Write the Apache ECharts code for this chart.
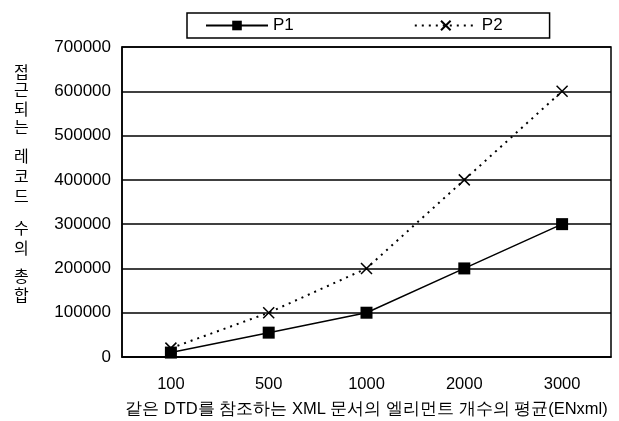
<!DOCTYPE html>
<html><head><meta charset="utf-8">
<script src="https://cdn.jsdelivr.net/npm/echarts@6/dist/echarts.min.js"></script>
<style>html,body{margin:0;padding:0;background:#fff}#c{width:619px;height:421px}</style>
</head><body><div id="c"></div>
<script>
const categories = ['100', '500', '1000', '2000', '3000'];
const p1 = [10000, 55000, 100000, 200000, 300000];
const p2 = [20000, 100000, 200000, 400000, 600000];
const yTitleChars = ['접','근','되','는','레','코','드','수','의','총','합'];
const yTitleYs = [73, 91, 110, 128, 157, 177, 197, 229, 249, 277, 296];
const xTitle = '같은 DTD를 참조하는 XML 문서의 엘리먼트 개수의 평균(ENxml)';

const chart = echarts.init(document.getElementById('c'));
const font = '"Liberation Sans", Arial, sans-serif';
const crossPath = 'path://M0,0L10,10M10,0L0,10';
chart.setOption({
  backgroundColor: '#fff',
  animation: false,
  textStyle: { fontFamily: font, color: '#000' },
  grid: { left: 122, right: 8, top: 47, bottom: 64, show: true, borderColor: '#000', borderWidth: 1.5,
    containLabel: false, outerBoundsMode: 'none' },
  legend: {
    left: 187, top: 13,
    padding: [4, 47, 4, 18],
    borderColor: '#000', borderWidth: 1.5,
    itemGap: 120, itemWidth: 62, itemHeight: 12,
    textStyle: { fontSize: 17, color: '#000', fontFamily: font },
    data: ['P1', 'P2']
  },
  xAxis: {
    type: 'category', data: categories, boundaryGap: true,
    axisLine: { lineStyle: { color: '#000', width: 1.5 } },
    axisTick: { show: false },
    axisLabel: { fontSize: 16.5, color: '#000', margin: 19, fontFamily: font },
    name: xTitle, nameLocation: 'middle', nameGap: 44,
    nameTextStyle: { fontSize: 16.5, color: '#000', fontFamily: font }
  },
  yAxis: {
    type: 'value', min: 0, max: 700000, interval: 100000,
    axisLine: { show: true, lineStyle: { color: '#000', width: 1.5 } },
    axisTick: { show: false },
    axisLabel: { fontSize: 17, color: '#000', margin: 11, fontFamily: font, formatter: v => String(v) },
    splitLine: { lineStyle: { color: '#000', width: 1.5 } }
  },
  graphic: yTitleChars.map((ch, i) => ({
    type: 'text', left: 14, top: yTitleYs[i] - 9,
    style: { text: ch, fontSize: 16, fill: '#000', fontFamily: '"Noto Sans CJK KR", sans-serif' }
  })),
  series: [
    { name: 'P1', type: 'line', data: p1, symbol: 'rect', symbolSize: 12,
      lineStyle: { color: '#000', width: 1.5 }, itemStyle: { color: '#000' } },
    { name: 'P2', type: 'line', data: p2, symbol: crossPath, symbolSize: 11,
      lineStyle: { color: '#000', width: 2, type: [2, 5] },
      itemStyle: { color: 'none', borderColor: '#000', borderWidth: 1.5 } }
  ]
});
</script></body></html>
